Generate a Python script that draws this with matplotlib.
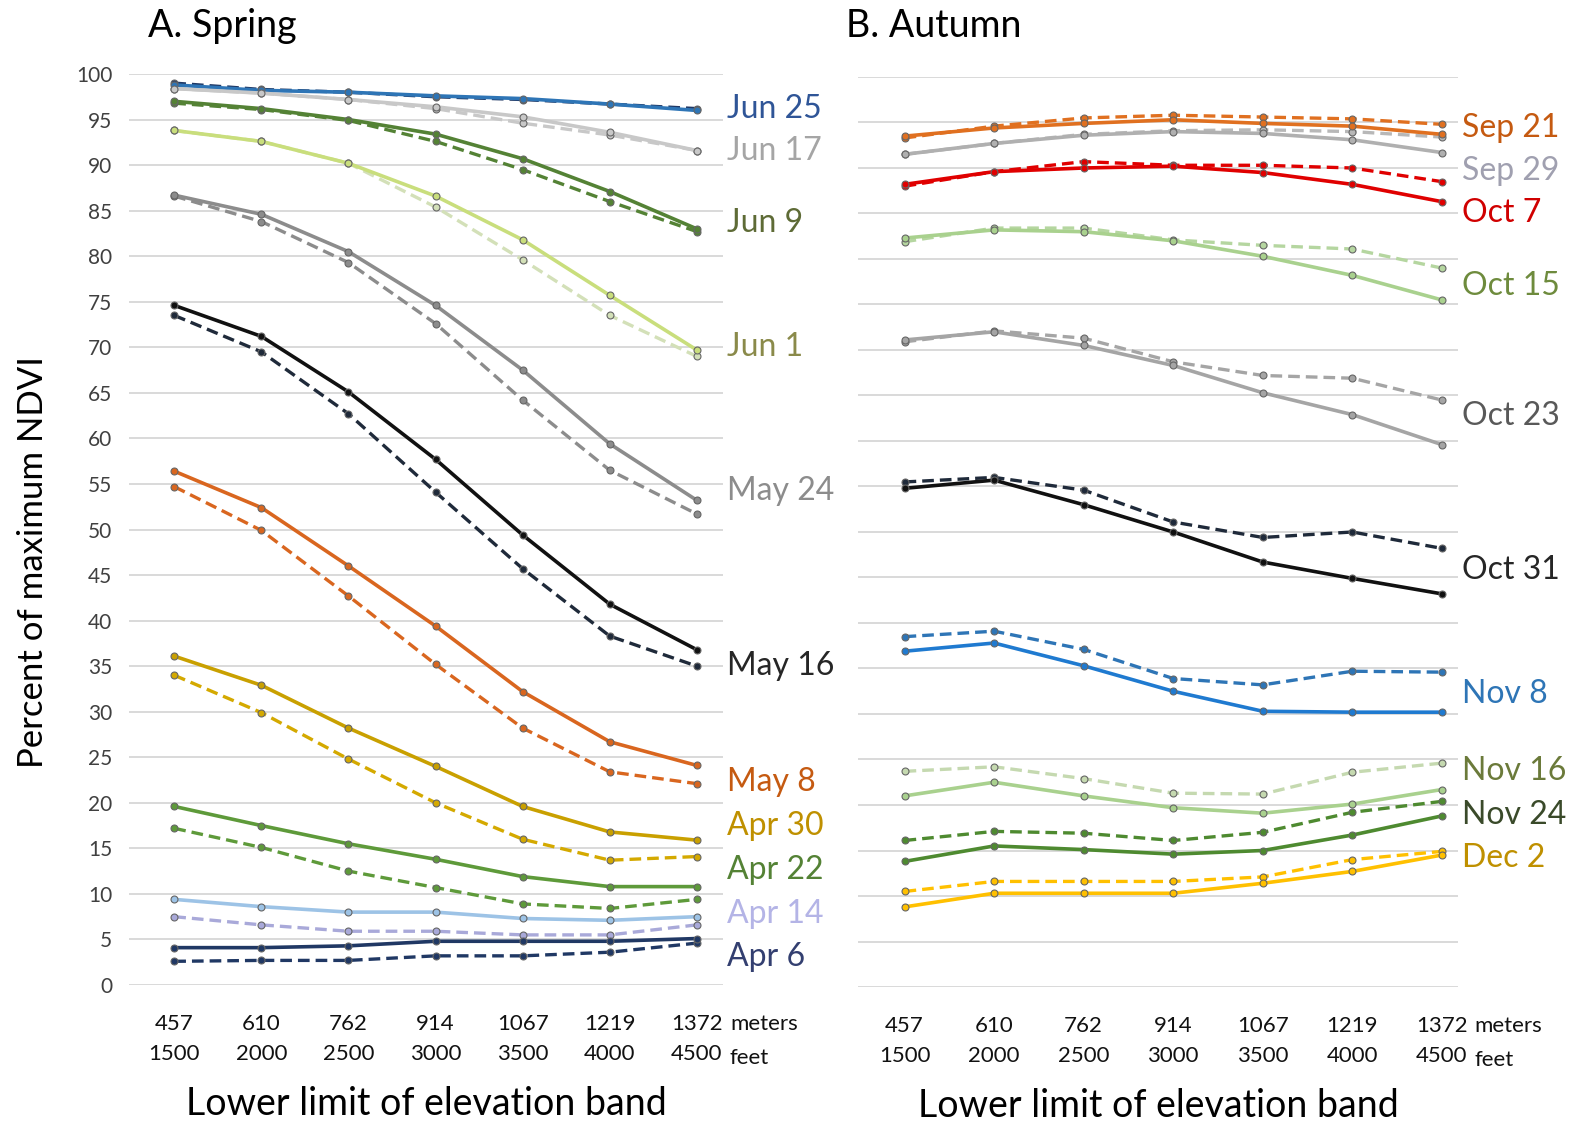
import numpy as np
import matplotlib.pyplot as plt

plt.rcParams['font.family'] = ['Lato', 'DejaVu Sans']

# elevation bands
meters = ['457', '610', '762', '914', '1067', '1219', '1372']
feet = ['1500', '2000', '2500', '3000', '3500', '4000', '4500']

# Spring: solid and dashed series, percent of max NDVI
spring_names = ['Jun 25', 'Jun 17', 'Jun 9', 'Jun 1', 'May 24', 'May 16',
                'May 8', 'Apr 30', 'Apr 22', 'Apr 14', 'Apr 6']
spring_solid = [
    [98.8, 98.2, 98.0, 97.6, 97.3, 96.7, 96.0],
    [98.4, 97.9, 97.2, 96.4, 95.3, 93.6, 91.6],
    [97.0, 96.2, 95.0, 93.4, 90.7, 87.1, 83.0],
    [93.8, 92.6, 90.2, 86.6, 81.8, 75.7, 69.7],
    [86.7, 84.6, 80.5, 74.6, 67.5, 59.4, 53.2],
    [74.6, 71.2, 65.1, 57.7, 49.4, 41.8, 36.8],
    [56.4, 52.4, 46.0, 39.4, 32.2, 26.7, 24.1],
    [36.1, 32.9, 28.2, 24.0, 19.6, 16.8, 15.9],
    [19.6, 17.5, 15.5, 13.8, 11.9, 10.8, 10.8],
    [9.4, 8.6, 8.0, 8.0, 7.3, 7.1, 7.5],
    [4.1, 4.1, 4.3, 4.8, 4.8, 4.8, 5.1],
]
spring_dashed = [
    [99.0, 98.3, 98.0, 97.5, 97.2, 96.7, 96.2],
    [98.4, 97.9, 97.2, 96.2, 94.6, 93.3, 91.6],
    [96.8, 96.1, 94.9, 92.6, 89.5, 86.0, 82.7],
    [93.8, 92.6, 90.2, 85.4, 79.6, 73.5, 69.0],
    [86.6, 83.8, 79.3, 72.6, 64.2, 56.5, 51.7],
    [73.5, 69.5, 62.7, 54.1, 45.7, 38.3, 35.0],
    [54.7, 49.9, 42.7, 35.2, 28.2, 23.4, 22.1],
    [34.0, 29.9, 24.8, 20.0, 16.0, 13.7, 14.1],
    [17.2, 15.1, 12.5, 10.7, 8.9, 8.4, 9.4],
    [7.5, 6.6, 5.9, 5.9, 5.5, 5.5, 6.6],
    [2.6, 2.7, 2.7, 3.2, 3.2, 3.6, 4.6],
]
spring_label_y = [96.2, 91.5, 83.6, 70.0, 54.2, 35.0, 22.3, 17.5, 12.6, 7.8, 3.1]
spring_solid_col = ['#2E75B6', '#C8C8C8', '#548235', '#C9DE7C', '#8C8C8C', '#111111',
                    '#D9661F', '#C9A000', '#5E9A3A', '#9DC3E6', '#203864']
spring_dash_col = ['#203864', '#C8C8C8', '#548235', '#D3E0B8', '#8C8C8C', '#1F2A3A',
                   '#D9661F', '#D4A900', '#5E9A3A', '#A9A9D9', '#203864']
spring_text_col = ['#2F5597', '#A5A5A5', '#5E6B36', '#8A8A4A', '#8C8C8C', '#262626',
                   '#C55A11', '#BF9000', '#548235', '#B4B4E6', '#333F70']

# Autumn
autumn_names = ['Sep 21', 'Sep 29', 'Oct 7', 'Oct 15', 'Oct 23', 'Oct 31',
                'Nov 8', 'Nov 16', 'Nov 24', 'Dec 2']
autumn_solid = [
    [93.5, 94.4, 94.9, 95.3, 94.9, 94.6, 93.7],
    [91.5, 92.7, 93.6, 94.0, 93.8, 93.1, 91.7],
    [88.2, 89.6, 90.0, 90.2, 89.5, 88.2, 86.3],
    [82.3, 83.2, 83.0, 82.0, 80.3, 78.2, 75.5],
    [71.1, 72.0, 70.5, 68.3, 65.3, 62.9, 59.6],
    [54.8, 55.7, 53.0, 50.0, 46.7, 44.9, 43.2],
    [36.9, 37.8, 35.3, 32.5, 30.3, 30.2, 30.2],
    [21.0, 22.5, 21.0, 19.7, 19.1, 20.1, 21.7],
    [13.8, 15.5, 15.1, 14.6, 15.0, 16.7, 18.8],
    [8.8, 10.3, 10.3, 10.3, 11.4, 12.7, 14.5],
]
autumn_dashed = [
    [93.3, 94.6, 95.5, 95.8, 95.6, 95.4, 94.8],
    [91.5, 92.7, 93.7, 94.1, 94.2, 94.0, 93.4],
    [88.0, 89.6, 90.7, 90.3, 90.3, 90.0, 88.5],
    [81.9, 83.4, 83.4, 82.1, 81.5, 81.1, 79.0],
    [70.9, 72.1, 71.3, 68.7, 67.2, 66.9, 64.5],
    [55.5, 56.0, 54.6, 51.1, 49.4, 50.0, 48.2],
    [38.5, 39.1, 37.1, 33.9, 33.2, 34.7, 34.6],
    [23.7, 24.2, 22.9, 21.3, 21.2, 23.6, 24.6],
    [16.1, 17.1, 16.9, 16.1, 17.0, 19.2, 20.4],
    [10.5, 11.6, 11.6, 11.6, 12.1, 14.0, 14.9],
]
autumn_label_y = [94.4, 89.7, 85.0, 77.0, 62.7, 45.8, 32.2, 23.7, 18.9, 14.2]
autumn_solid_col = ['#E07020', '#B0B0B0', '#E00000', '#A9D18E', '#A5A5A5', '#111111',
                    '#1F7AD0', '#A9D18E', '#4E8A30', '#FFC000']
autumn_dash_col = ['#E07020', '#B8B8B8', '#E00000', '#B5D6A0', '#A5A5A5', '#1F2A3A',
                   '#2E75B6', '#C5D9B0', '#4E8A30', '#FFC000']
autumn_text_col = ['#C55A11', '#A0A0B0', '#D00000', '#6E8B3D', '#595959', '#262626',
                   '#2E75B6', '#6B7A3A', '#3A4A2A', '#BF9000']

fig = plt.figure(figsize=(15.79, 11.23), dpi=100)
W, H = 1579, 1123
axL = fig.add_axes([129 / W, 1 - 985 / H, (723 - 129) / W, (985 - 74) / H])
axR = fig.add_axes([858 / W, 1 - 987 / H, (1458 - 858) / W, (987 - 77) / H])

x = np.arange(len(meters))


def draw(ax, names, solid, dashed, sc, dc, tc, ly, xmax, show_y, unit_x):
    for i in range(len(names)):
        ax.plot(x, dashed[i], '--', color=dc[i], lw=2.4, dashes=(3.5, 1.8),
                marker='o', ms=5, mfc=dc[i], mec='#666666', mew=0.8, zorder=3)
        ax.plot(x, solid[i], '-', color=sc[i], lw=2.6,
                marker='o', ms=5, mfc=sc[i], mec='#666666', mew=0.8, zorder=4)
        ax.text(xmax + 0.05, ly[i], names[i], color=tc[i], fontsize=23,
                va='center', ha='left', clip_on=False)
    ax.set_xlim(-0.52, xmax)
    ax.set_ylim(0, 100)
    ax.set_yticks(np.arange(0, 101, 5))
    ax.grid(axis='y', color='#D0D0D0', lw=1.1)
    ax.set_axisbelow(True)
    for s in ax.spines.values():
        s.set_visible(False)
    ax.tick_params(length=0, labelsize=15, colors='#404040', pad=12)
    if not show_y:
        ax.set_yticklabels([])
    ax.set_xticks(x)
    ax.set_xticklabels([m + '\n' + f for m, f in zip(meters, feet)],
                       fontsize=16, linespacing=1.6, color='#111111')
    ax.tick_params(axis='x', pad=21)
    ax.text(unit_x, -4.3, 'meters', fontsize=16, ha='left', va='center', color='#111111')
    ax.text(unit_x, -8.0, 'feet', fontsize=16, ha='left', va='center', color='#111111')
    ax.set_xlabel('Lower limit of elevation band', fontsize=27, labelpad=16)


draw(axL, spring_names, spring_solid, spring_dashed, spring_solid_col, spring_dash_col,
     spring_text_col, spring_label_y, 6.3, True, 6.38)
draw(axR, autumn_names, autumn_solid, autumn_dashed, autumn_solid_col, autumn_dash_col,
     autumn_text_col, autumn_label_y, 6.18, False, 6.36)

axL.set_ylabel('Percent of maximum NDVI', fontsize=25)
axL.yaxis.set_label_coords(-0.135, 0.464)
fig.text(148 / W, 1 - 26 / H, 'A. Spring', fontsize=27, va='center')
fig.text(846 / W, 1 - 26 / H, 'B. Autumn', fontsize=27, va='center')

fig.savefig('out.png', dpi=100)
